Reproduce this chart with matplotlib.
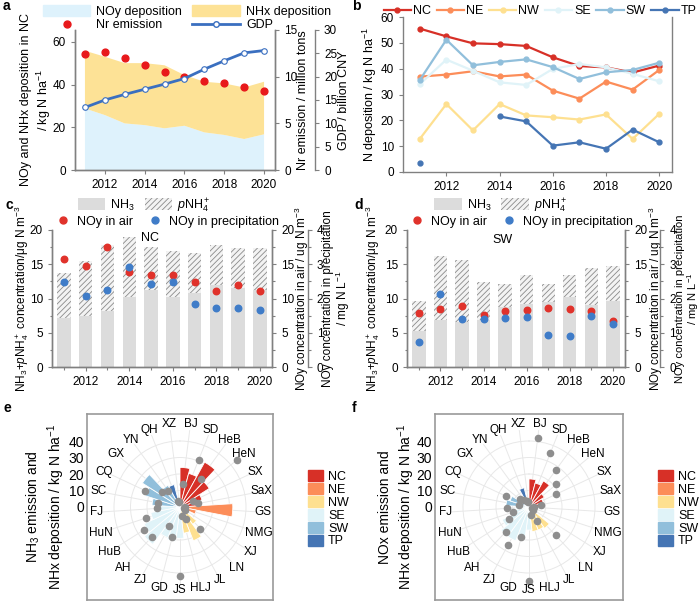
"""
Nitrogen deposition trends in China, 2011-2020 (six panel figure).
"""

import numpy as np
import matplotlib
matplotlib.use("Agg")
import matplotlib.pyplot as plt
import matplotlib.patches as mpatches
from matplotlib.lines import Line2D
from matplotlib.ticker import MultipleLocator

plt.rcParams['font.family'] = ['Liberation Sans', 'DejaVu Sans']
plt.rcParams['mathtext.fontset'] = 'custom'
plt.rcParams['mathtext.rm'] = 'Liberation Sans'
plt.rcParams['mathtext.it'] = 'Liberation Sans:italic'
plt.rcParams['mathtext.bf'] = 'Liberation Sans:bold'
plt.rcParams['hatch.linewidth'] = 0.6
plt.rcParams['font.size'] = 8.5

# -----------------------------------------------------------------------
# Data
# -----------------------------------------------------------------------

years = np.arange(2011, 2021)

# a: NC deposition, emission, GDP
noy_dep = [28.8, 25.7, 21.8, 21.0, 19.5, 20.7, 17.6, 16.4, 14.5, 16.7]
nhx_dep = [27.0, 27.3, 28.2, 29.0, 29.5, 23.7, 23.7, 24.1, 24.1, 24.6]
nr_emission = [12.4, 12.6, 12.0, 11.2, 10.5, 10.0, 9.5, 9.3, 8.9, 8.5]
gdp = [13.4, 15.0, 16.2, 17.3, 18.4, 19.6, 21.6, 23.4, 25.1, 25.6]

# b: regional N deposition
regions = ['NC', 'NE', 'NW', 'SE', 'SW', 'TP']
dep_nc = [55.5, 52.5, 49.8, 49.5, 48.8, 44.4, 41.0, 40.5, 38.5, 41.2]
dep_ne = [36.9, 37.7, 39.0, 37.0, 37.7, 31.5, 28.4, 35.0, 31.9, 39.5]
dep_nw = [12.8, 26.3, 16.1, 26.3, 21.9, 21.2, 20.3, 22.3, 12.8, 22.5]
dep_se = [34.0, 43.5, 39.2, 34.7, 33.7, 39.9, 41.8, 40.5, 38.0, 35.1]
dep_sw = [35.6, 51.2, 41.3, 42.6, 43.6, 40.6, 36.0, 38.6, 39.5, 42.3]
dep_tp = [3.4, np.nan, np.nan, 21.5, 19.6, 10.2, 11.5, 9.0, 16.4, 11.5]

# c: NC concentrations
c_nh3 = [7.1, 7.4, 8.2, 10.2, 11.2, 10.2, 10.8, 12.0, 11.5, 11.3]
c_pnh4 = [6.65, 8.05, 9.6, 8.8, 6.25, 6.7, 5.9, 5.8, 5.8, 6.0]
c_air = [15.7, 14.8, 17.5, 13.9, 13.4, 13.4, 12.4, 11.1, 12.0, 11.1]
c_precip = [2.47, 2.08, 2.24, 2.93, 2.41, 2.47, 1.83, 1.71, 1.71, 1.67]

# d: SW concentrations
d_nh3 = [5.2, 6.9, 6.5, 6.8, 8.8, 9.2, 9.5, 10.2, 9.0, 9.7]
d_pnh4 = [4.4, 9.3, 9.1, 5.6, 3.3, 4.2, 2.6, 3.3, 5.4, 5.1]
d_air = [7.9, 8.45, 8.9, 7.6, 8.15, 8.3, 8.55, 8.45, 8.15, 6.75]
d_precip = [0.74, 2.12, 1.41, 1.39, 1.43, 1.46, 0.93, 0.90, 1.49, 1.25]

# e/f: provinces around the circle
provinces = ['BJ', 'SD', 'HeB', 'HeN', 'SX', 'SaX', 'GS', 'NMG', 'XJ', 'LN',
             'JL', 'HLJ', 'JS', 'GD', 'ZJ', 'AH', 'HuB', 'HuN', 'FJ', 'SC',
             'CQ', 'GX', 'YN', 'QH', 'XZ']
bar_region = ['NC'] * 6 + ['NE'] * 3 + ['NW'] * 3 + ['SE'] * 7 + ['SW'] * 4 + ['TP'] * 2
e_bars = [24, 21, 31, 21, 14, 11, 32, 10, 4, 13, 22, 16,
          19, 21, 20, 28, 24, 18, 14, 17, 22, 27, 15, 14, 4]
e_dots = [14, 30.7, 21.3, 45, 9, 11.4, 3, 2.5, 3.5, 18, 8, 5.7, 42,
          19, 13.3, 24.7, 26, 21.7, 14, 13.4, 23.4, 14.2, 11.9, 4, 3]
f_bars = [17, 15, 18, 11, 9, 6, 2, 2, 1, 16, 15, 15,
          14, 20, 22, 22, 18, 10, 8, 14, 12, 6, 5, 12, 4]
f_dots = [42, 35, 28, 21.6, 18.3, 7.5, 3, 2, 3, 23.5, 9.6, 5, 45,
          19, 26, 20.4, 14, 10.4, 13.5, 6, 15.4, 7.2, 5, 4, 3]

# -----------------------------------------------------------------------
# Styles
# -----------------------------------------------------------------------

W, H = 700, 603
SPINE = '#808080'
REGION_COLORS = {'NC': '#d73027', 'NE': '#fc8d59', 'NW': '#fee090',
                 'SE': '#e0f3f8', 'SW': '#91bfdb', 'TP': '#4575b4'}
NOY_C = '#def2fc'
NHX_C = '#fde296'
RED = '#e8191b'
GDP_C = '#3a6fc0'
DOT_RED = '#e0322b'
DOT_BLUE = '#3f7cc8'
NH3_C = '#dcdcdc'


def px_rect(left, top, right, bottom):
    return [left / W, 1 - bottom / H, (right - left) / W, (bottom - top) / H]


def style(ax):
    for s in ax.spines.values():
        s.set_color(SPINE)
        s.set_linewidth(1.0)
    ax.tick_params(which='both', colors=SPINE, labelcolor='black', width=0.8, labelsize=8.5)
    ax.tick_params(which='major', length=3)
    ax.tick_params(which='minor', length=1.8)


# -----------------------------------------------------------------------
# Panels
# -----------------------------------------------------------------------

def plot_a(fig):
    ax = fig.add_axes(px_rect(75, 30, 275, 170))
    ax.stackplot(years, noy_dep, nhx_dep, colors=[NOY_C, NHX_C], linewidth=0)
    ax.set_xlim(2010.5, 2020.55)
    ax.set_ylim(0, 65.5)
    ax.set_yticks([0, 20, 40, 60])
    ax.set_xticks(range(2012, 2021, 2))
    ax.set_ylabel("NOy and NHx deposition in NC\n/ kg N ha$^{-1}$", fontsize=9)
    ax.yaxis.set_label_coords(-0.11, 0.5)
    style(ax)
    ax.spines['top'].set_visible(False)

    ax2 = ax.twinx()
    ax2.scatter(years, nr_emission, s=24, color=RED, zorder=3)
    ax2.set_ylim(0, 15)
    ax2.set_yticks([0, 5, 10, 15])
    ax2.set_ylabel("Nr emission / million tons", fontsize=9)
    ax2.yaxis.set_label_coords(1.11, 0.5)
    style(ax2)
    ax2.spines['top'].set_visible(False)

    ax3 = ax.twinx()
    ax3.plot(years, gdp, '-o', color=GDP_C, lw=2, ms=4, mfc='white', mec=GDP_C, mew=0.8)
    ax3.set_ylim(0, 30)
    ax3.set_yticks(range(0, 31, 5))
    ax3.spines['right'].set_position(('axes', 1.2))
    ax3.set_ylabel("GDP / billion CNY", fontsize=9)
    ax3.yaxis.set_label_coords(1.315, 0.5)
    style(ax3)
    for s in ['top', 'left', 'bottom']:
        ax3.spines[s].set_visible(False)

    handles = [
        mpatches.Patch(color=NOY_C, label='NOy deposition'),
        Line2D([], [], ls='', marker='o', ms=5, color=RED, label='Nr emission'),
        mpatches.Patch(color=NHX_C, label='NHx deposition'),
        Line2D([], [], color=GDP_C, lw=2, marker='o', ms=4, mfc='white', label='GDP'),
    ]
    ax3.legend(handles=handles, ncol=2, loc='lower center', bbox_to_anchor=(0.56, 0.99),
               frameon=False, fontsize=9, handlelength=3.8, handleheight=0.9,
               columnspacing=0.8, labelspacing=0.1, handletextpad=0.5,
               borderaxespad=0, borderpad=0)


def plot_b(fig):
    ax = fig.add_axes(px_rect(403, 17, 672, 172))
    series = [dep_nc, dep_ne, dep_nw, dep_se, dep_sw, dep_tp]
    for name, vals in zip(regions, series):
        ax.plot(years, vals, '-o', color=REGION_COLORS[name], lw=1.6, ms=3.5, label=name)
    ax.set_xlim(2010.37, 2020.48)
    ax.set_ylim(0, 60)
    ax.set_yticks(range(0, 61, 10))
    ax.set_xticks(range(2012, 2021, 2))
    ax.set_ylabel("N deposition / kg N ha$^{-1}$", fontsize=9)
    ax.yaxis.set_label_coords(-0.088, 0.5)
    style(ax)
    ax.spines['top'].set_visible(False)
    ax.legend(ncol=6, loc='lower center', bbox_to_anchor=(0.51, 1.0), frameon=False,
              fontsize=9, handlelength=2.2, handletextpad=0.15, columnspacing=0.45,
              borderaxespad=0, borderpad=0)


def plot_conc(fig, rect, nh3, pnh4, air, precip, region, label_pos,
              leg1_x, leg2_x, label_x, outer_size):
    ax = fig.add_axes(rect)
    ax.bar(years, nh3, width=0.62, color=NH3_C, linewidth=0)
    ax.bar(years, pnh4, bottom=nh3, width=0.62, facecolor='#f3f3f3',
           edgecolor='#8a8a8a', hatch='//////', linewidth=0)
    ax.set_xlim(2010.45, 2020.56)
    ax.set_ylim(0, 20)
    ax.set_yticks(range(0, 21, 5))
    ax.yaxis.set_minor_locator(MultipleLocator(2.5))
    ax.set_xticks(range(2012, 2021, 2))
    ax.xaxis.set_minor_locator(MultipleLocator(1))
    ax.set_ylabel("NH$_3$+$p$NH$_4^+$ concentration/μg N m$^{-3}$", fontsize=8.5)
    ax.yaxis.set_label_coords(label_x[0], 0.5)
    ax.text(label_pos[0], label_pos[1], region, ha='center', va='center', fontsize=9)
    style(ax)
    ax.spines['top'].set_visible(False)

    ax2 = ax.twinx()
    ax2.scatter(years, air, s=22, color=DOT_RED, zorder=3)
    ax2.set_ylim(0, 20)
    ax2.set_yticks(range(0, 21, 5))
    ax2.yaxis.set_minor_locator(MultipleLocator(2.5))
    ax2.set_ylabel("NOy concentration in air / ug N m$^{-3}$", fontsize=8.5)
    ax2.yaxis.set_label_coords(label_x[1], 0.5)
    style(ax2)
    ax2.spines['top'].set_visible(False)

    ax3 = ax.twinx()
    ax3.scatter(years, precip, s=22, color=DOT_BLUE, zorder=3)
    ax3.set_ylim(0, 4)
    ax3.set_yticks(range(0, 5))
    ax3.yaxis.set_minor_locator(MultipleLocator(0.5))
    ax3.spines['right'].set_position(('axes', 1.162))
    ax3.set_ylabel("NOy concentration in precipitation\n/ mg N L$^{-1}$", fontsize=outer_size,
                   linespacing=1.0)
    ax3.yaxis.set_label_coords(label_x[2], 0.5)
    style(ax3)
    for s in ['top', 'left', 'bottom']:
        ax3.spines[s].set_visible(False)

    bar_handles = [
        mpatches.Patch(facecolor=NH3_C, label='NH$_3$'),
        mpatches.Patch(facecolor='#f3f3f3', edgecolor='#8a8a8a', hatch='//////',
                       linewidth=0, label='$p$NH$_4^+$'),
    ]
    leg1 = ax3.legend(handles=bar_handles, ncol=2, loc='center', bbox_to_anchor=(leg1_x, 1.18),
                      frameon=False, fontsize=9, handlelength=2.2, handleheight=1.1,
                      columnspacing=0.8, handletextpad=0.4, borderaxespad=0, borderpad=0)
    ax3.add_artist(leg1)
    dot_handles = [
        Line2D([], [], ls='', marker='o', ms=5, color=DOT_RED, label='NOy in air'),
        Line2D([], [], ls='', marker='o', ms=5, color=DOT_BLUE, label='NOy in precipitation'),
    ]
    ax3.legend(handles=dot_handles, ncol=2, loc='center', bbox_to_anchor=(leg2_x, 1.06),
               frameon=False, fontsize=9, handlelength=1.5, columnspacing=1.0,
               handletextpad=0.4, borderaxespad=0, borderpad=0)


def plot_polar(fig, box, center, bars, dots, ylabel, label_x):
    scale = 1.65               # pixels per kg N ha-1
    half_box = (box[3] - box[1]) / 2 / scale
    half_w = (box[2] - box[0]) / 2 / scale
    r_max = 47
    cx, cy = center

    ax_box = fig.add_axes(px_rect(*box))
    ax_box.set_xlim(-half_w, half_w)
    ax_box.set_ylim(-half_box, half_box)
    ax_box.set_xticks([])
    ax_box.set_yticks([0, 10, 20, 30, 40])
    ax_box.tick_params(length=0, labelsize=10, pad=2)
    for s in ax_box.spines.values():
        s.set_color('#999999')
        s.set_linewidth(1.2)
    ax_box.set_ylabel(ylabel, fontsize=10)
    ax_box.yaxis.set_label_coords(label_x, 0.5)

    rp = r_max * scale
    axp = fig.add_axes(px_rect(cx - rp, cy - rp, cx + rp, cy + rp), projection='polar')
    axp.set_theta_zero_location('N')
    axp.set_theta_direction(-1)
    n = len(provinces)
    theta = (np.arange(n) + 0.5) * 2 * np.pi / n
    colors = [REGION_COLORS[r] for r in bar_region]
    axp.set_axisbelow(True)
    axp.bar(theta, bars, width=2 * np.pi / n, color=colors, edgecolor='white', linewidth=0.6, zorder=2)
    axp.scatter(theta, dots, s=20, color='#8e8e8e', zorder=3, clip_on=False)
    axp.set_ylim(0, r_max)
    axp.set_yticks([10, 20, 30, 40])
    axp.set_yticklabels([])
    axp.set_xticks(theta)
    axp.set_xticklabels([])
    axp.tick_params(length=0)
    axp.grid(color='#e8e8e8', lw=0.7)
    axp.spines['polar'].set_visible(False)
    axp.patch.set_alpha(0)
    for t, name in zip(theta, provinces):
        axp.text(t, 50.5, name, ha='center', va='center', fontsize=8.5, clip_on=False)

    handles = [mpatches.Patch(color=REGION_COLORS[r], label=r) for r in regions]
    ax_box.legend(handles=handles, loc='center left',
                  bbox_to_anchor=((box[2] - box[0] + 35) / (box[2] - box[0]), 0.49),
                  frameon=False, fontsize=9, handlelength=1.2, handleheight=1.0,
                  labelspacing=0.0, handletextpad=0.4, borderaxespad=0, borderpad=0)


def main():
    fig = plt.figure(figsize=(7.0, 6.03), dpi=100)

    plot_a(fig)
    plot_b(fig)
    plot_conc(fig, px_rect(52, 230, 272, 367), c_nh3, c_pnh4, c_air, c_precip,
              'NC', (2014.95, 18.8), 0.42, 0.52, (-0.095, 1.095, 1.228), 8.5)
    plot_conc(fig, px_rect(407, 230, 625, 367), d_nh3, d_pnh4, d_air, d_precip,
              'SW', (2014.87, 18.5), 0.43, 0.52, (-0.115, 1.1, 1.228), 8)
    plot_polar(fig, (87, 414, 273, 600), (180, 507), e_bars, e_dots,
               "NH$_3$ emission and\nNHx deposition / kg N ha$^{-1}$", -0.108)
    plot_polar(fig, (435, 414, 623, 600), (529, 507), f_bars, f_dots,
               "NOx emission and\nNHx deposition / kg N ha$^{-1}$", -0.096)

    for letter, x, y in [('a', 3, 6), ('b', 352, 6), ('c', 6, 205),
                         ('d', 354, 205), ('e', 3, 408), ('f', 352, 408)]:
        fig.text(x / W, 1 - y / H, letter, fontsize=10, fontweight='bold', va='center')

    fig.savefig('out.png', dpi=100)
    plt.close(fig)


if __name__ == "__main__":
    main()
